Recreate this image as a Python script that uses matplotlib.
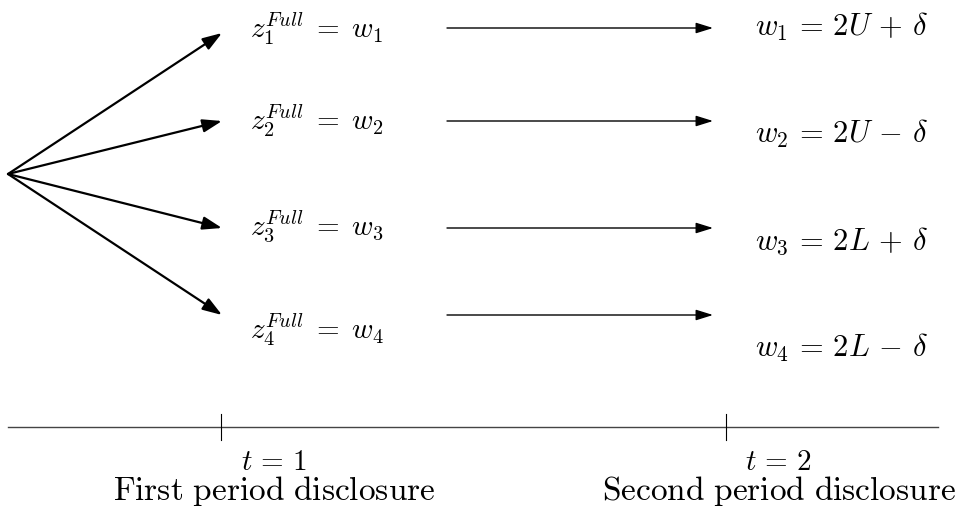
import numpy as np
import matplotlib.pyplot as plt
from matplotlib import rc

rc('mathtext', fontset='cm')
rc('font', family='serif', serif=['DejaVu Serif'])

# tree node positions (pixel space of the figure)
origin = (8, 174)
branch_y = [33, 121, 228, 315]
branch_x = 222
z_labels = [r'$z_{%d}^{Full} \;=\; w_{%d}$' % (i, i) for i in range(1, 5)]
z_label_base = [38, 130, 235, 339]

flow_y = [28, 121, 228, 315]
flow_x0, flow_x1 = 447, 713
w_labels = [r'$w_1 \,=\, 2U \,+\, \delta$', r'$w_2 \,=\, 2U \,-\, \delta$',
            r'$w_3 \,=\, 2L \,+\, \delta$', r'$w_4 \,=\, 2L \,-\, \delta$']
w_label_base = [36, 143, 250, 357]

time_x = [221, 726]
time_labels = [r'$t \,=\, 1$', r'$t \,=\, 2$']
period_labels = [r'$\mathrm{First\ period\ disclosure}$',
                 r'$\mathrm{Second\ period\ disclosure}$']

fig = plt.figure(figsize=(9.63, 5.08), dpi=100)
ax = fig.add_axes([0, 0, 1, 1])
ax.set_xlim(0, 963)
ax.set_ylim(508, 0)
ax.axis('off')

for y in branch_y:
    ax.annotate('', xy=(branch_x, y), xytext=origin,
                arrowprops=dict(arrowstyle='-|>,head_length=0.65,head_width=0.22',
                                color='black', lw=1.6,
                                mutation_scale=18, shrinkA=0, shrinkB=0))

for lab, y in zip(z_labels, z_label_base):
    ax.text(250, y, lab, fontsize=21, ha='left', va='baseline')

for y in flow_y:
    ax.annotate('', xy=(flow_x1, y), xytext=(flow_x0, y),
                arrowprops=dict(arrowstyle='-|>,head_length=0.8,head_width=0.25',
                                color='black', lw=1.0,
                                mutation_scale=13, shrinkA=0, shrinkB=0))

for lab, y in zip(w_labels, w_label_base):
    ax.text(928, y, lab, fontsize=22, ha='right', va='baseline')

# timeline
ax.plot([8, 938], [427, 427], color='#444444', lw=1.0)
for x, tl, pl in zip(time_x, time_labels, period_labels):
    ax.plot([x, x], [414, 440], color='black', lw=0.8)
    ax.text(x + 53, 470, tl, fontsize=21, ha='center', va='baseline')
    ax.text(x + 53, 500, pl, fontsize=24, ha='center', va='baseline')

fig.savefig('out.png', dpi=100)
